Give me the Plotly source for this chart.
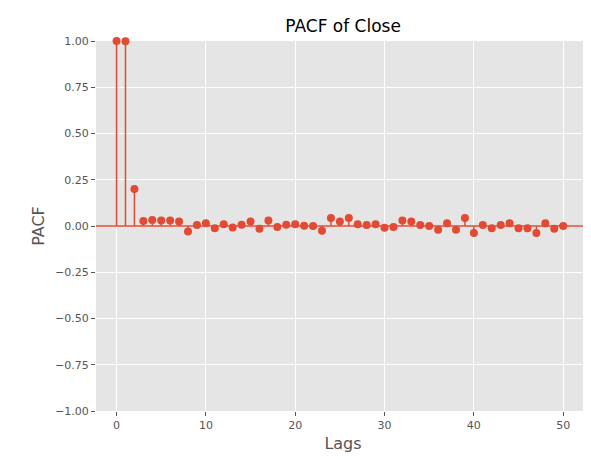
import plotly.graph_objects as go

lags = list(range(51))
pacf = [1.0, 0.999, 0.20, 0.027, 0.032, 0.03, 0.03, 0.025, -0.03, 0.005,
        0.015, -0.012, 0.01, -0.008, 0.007, 0.025, -0.015, 0.03, -0.005, 0.007,
        0.01, 0.002, 0.0, -0.025, 0.043, 0.025, 0.043, 0.01, 0.005, 0.01,
        -0.01, -0.005, 0.03, 0.025, 0.005, 0.0, -0.02, 0.015, -0.02, 0.043,
        -0.038, 0.005, -0.012, 0.005, 0.015, -0.012, -0.012, -0.038, 0.015, -0.015,
        0.0]
red = "#E24A33"

sx, sy = [], []
for l, v in zip(lags, pacf):
    sx += [l, l, None]
    sy += [0, v, None]

fig = go.Figure()
fig.add_trace(go.Scatter(x=sx, y=sy, mode="lines", line=dict(color=red, width=1.5), hoverinfo="skip"))
fig.add_trace(go.Scatter(x=[-2.5, 53], y=[0, 0], mode="lines", line=dict(color=red, width=1.5)))
fig.add_trace(go.Scatter(x=lags, y=pacf, mode="markers", marker=dict(color=red, size=8), cliponaxis=False))

ax = dict(showgrid=True, gridcolor="white", gridwidth=1, zeroline=False, showline=False,
          ticks="outside", ticklen=4, tickcolor="#555555", automargin=False,
          tickfont=dict(family="DejaVu Sans", size=11, color="#555555"),
          title_font=dict(family="DejaVu Sans", size=16, color="#555555"))
fig.update_layout(
    width=591, height=460, showlegend=False,
    paper_bgcolor="white", plot_bgcolor="#E5E5E5",
    margin=dict(l=88, r=9, t=33, b=57, autoexpand=False),
    title=dict(text="PACF of Close", x=0.567, xanchor="center", y=0.961, yanchor="middle",
               yref="container", font=dict(family="DejaVu Sans", size=17, color="black")),
    xaxis=dict(ax, range=[-2.3, 53], tickvals=[0, 10, 20, 30, 40, 50], title_text="Lags", title_standoff=6),
    yaxis=dict(ax, range=[-1, 1], tickvals=[-1, -0.75, -0.5, -0.25, 0, 0.25, 0.5, 0.75, 1],
               tickformat=".2f", title_text="PACF", title_standoff=6),
)
fig.write_html("out.html")
